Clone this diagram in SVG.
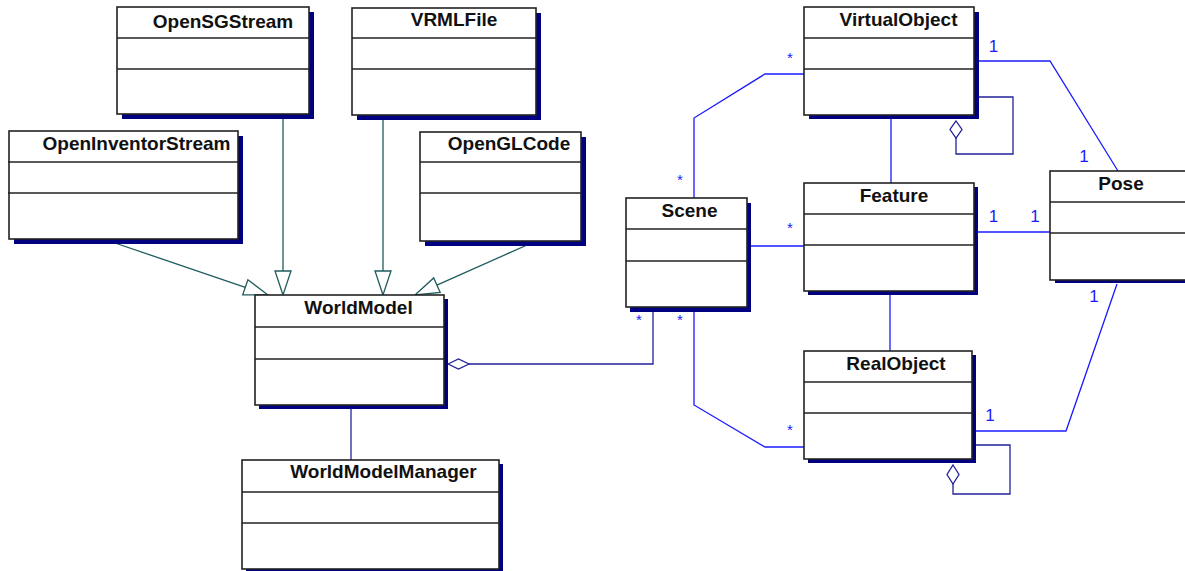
<svg xmlns="http://www.w3.org/2000/svg" width="1185" height="571" viewBox="0 0 1185 571">
  <style>
    .shadow { fill: #000080; }
    .box { fill: #ffffff; stroke: #222222; stroke-width: 1.6; }
    .div { stroke: #222222; stroke-width: 1.4; }
    .name { font-family: "Liberation Sans", Arial, sans-serif; font-weight: bold; font-size: 19px; fill: #111111; text-anchor: middle; }
    .gen { fill: none; stroke: #1f5c5c; stroke-width: 1.3; }
    .genhead { fill: #ffffff; stroke: #1f5c5c; stroke-width: 1.3; }
    .assoc { fill: none; stroke: #1a1aff; stroke-width: 1.3; }
    .aggr { fill: none; stroke: #22229a; stroke-width: 1.3; }
    .diamond { fill: #ffffff; stroke: #22229a; stroke-width: 1.3; }
    .mult { font-family: "Liberation Sans", Arial, sans-serif; font-size: 17px; fill: #1a1aff; text-anchor: middle; }
    .star { font-family: "Liberation Sans", Arial, sans-serif; font-size: 15px; fill: #1a1aff; text-anchor: middle; }
  </style>
  <rect width="1185" height="571" fill="#ffffff"/>

  <!-- connectors -->
  <g id="connectors">
    <!-- generalizations into WorldModel -->
    <line class="gen" x1="283" y1="119" x2="283" y2="271"/>
    <polygon class="genhead" points="283,295 275,271 291,271"/>
    <line class="gen" x1="383" y1="119" x2="383" y2="271"/>
    <polygon class="genhead" points="383,295 375,271 391,271"/>
    <line class="gen" x1="115" y1="243" x2="245.3" y2="287.3"/>
    <polygon class="genhead" points="268,295 242.7,294.9 247.9,279.7"/>
    <line class="gen" x1="527" y1="245" x2="436.9" y2="285.2"/>
    <polygon class="genhead" points="415,295 433.7,277.9 440.2,292.5"/>

    <!-- WorldModel to WorldModelManager -->
    <line class="aggr" x1="351" y1="409" x2="351" y2="460"/>

    <!-- WorldModel aggregates Scene -->
    <polyline class="aggr" points="469,364 653,364 653,312"/>
    <polygon class="diamond" points="448,364 458.5,359 469,364 458.5,369"/>

    <!-- Scene associations -->
    <polyline class="assoc" points="694,198 694,118 765,74 804,74"/>
    <line class="assoc" x1="751" y1="246" x2="804" y2="246"/>
    <polyline class="assoc" points="694,312 694,405 765,447 804,447"/>

    <!-- Feature links -->
    <line class="assoc" x1="891" y1="119" x2="891" y2="183"/>
    <line class="assoc" x1="890" y1="295" x2="890" y2="351"/>

    <!-- Pose associations -->
    <polyline class="assoc" points="979,61 1050,61 1118,171"/>
    <line class="assoc" x1="978" y1="232" x2="1050" y2="232"/>
    <polyline class="assoc" points="976,431 1066,431 1117,284"/>

    <!-- self aggregations -->
    <polyline class="aggr" points="979,97 1013,97 1013,154 956,154 956,138"/>
    <polygon class="diamond" points="956,121 962,129.5 956,138 950,129.5"/>
    <polyline class="aggr" points="976,445 1010,445 1010,494 953,494 953,484"/>
    <polygon class="diamond" points="953,465 959,474.5 953,484 947,474.5"/>

    <!-- multiplicities -->
    <text class="star" x="790" y="63">*</text>
    <text class="star" x="680" y="185">*</text>
    <text class="star" x="790" y="233">*</text>
    <text class="star" x="639" y="325">*</text>
    <text class="star" x="680" y="325">*</text>
    <text class="star" x="790" y="435">*</text>
    <text class="mult" x="993.5" y="52">1</text>
    <text class="mult" x="1084" y="162">1</text>
    <text class="mult" x="993.5" y="222">1</text>
    <text class="mult" x="1035" y="222">1</text>
    <text class="mult" x="1094" y="302">1</text>
    <text class="mult" x="990" y="421">1</text>
  </g>

  <!-- classes -->
  <g id="OpenSGStream">
    <rect class="shadow" x="122" y="12" width="192" height="107"/>
    <rect class="box" x="117" y="7" width="192" height="107"/>
    <line class="div" x1="117" y1="38" x2="309" y2="38"/>
    <line class="div" x1="117" y1="69" x2="309" y2="69"/>
    <text class="name" x="223" y="28">OpenSGStream</text>
  </g>

  <g id="VRMLFile">
    <rect class="shadow" x="357" y="13" width="184" height="107"/>
    <rect class="box" x="352" y="8" width="184" height="107"/>
    <line class="div" x1="352" y1="38" x2="536" y2="38"/>
    <line class="div" x1="352" y1="69" x2="536" y2="69"/>
    <text class="name" x="454" y="26">VRMLFile</text>
  </g>

  <g id="OpenInventorStream">
    <rect class="shadow" x="14" y="136" width="229" height="108"/>
    <rect class="box" x="9" y="131" width="229" height="108"/>
    <line class="div" x1="8" y1="162" x2="238" y2="162"/>
    <line class="div" x1="8" y1="193" x2="238" y2="193"/>
    <text class="name" x="136.5" y="150">OpenInventorStream</text>
  </g>

  <g id="OpenGLCode">
    <rect class="shadow" x="425" y="137" width="161" height="109"/>
    <rect class="box" x="420" y="132" width="161" height="109"/>
    <line class="div" x1="420" y1="162" x2="581" y2="162"/>
    <line class="div" x1="420" y1="193" x2="581" y2="193"/>
    <text class="name" x="509" y="150">OpenGLCode</text>
  </g>

  <g id="WorldModel">
    <rect class="shadow" x="259" y="299" width="189" height="110"/>
    <rect class="box" x="255" y="295" width="189" height="110"/>
    <line class="div" x1="255" y1="327" x2="444" y2="327"/>
    <line class="div" x1="255" y1="359" x2="444" y2="359"/>
    <text class="name" x="358.5" y="314">WorldModel</text>
  </g>

  <g id="WorldModelManager">
    <rect class="shadow" x="246" y="464" width="257" height="109"/>
    <rect class="box" x="242" y="460" width="257" height="109"/>
    <line class="div" x1="242" y1="492" x2="499" y2="492"/>
    <line class="div" x1="242" y1="523" x2="499" y2="523"/>
    <text class="name" x="383.5" y="478">WorldModelManager</text>
  </g>

  <g id="Scene">
    <rect class="shadow" x="630" y="203" width="121" height="109"/>
    <rect class="box" x="626" y="198" width="121" height="109"/>
    <line class="div" x1="626" y1="229" x2="747" y2="229"/>
    <line class="div" x1="626" y1="261" x2="747" y2="261"/>
    <text class="name" x="689.5" y="217">Scene</text>
  </g>

  <g id="VirtualObject">
    <rect class="shadow" x="809" y="12" width="170" height="107"/>
    <rect class="box" x="804" y="7" width="170" height="108"/>
    <line class="div" x1="804" y1="38" x2="974" y2="38"/>
    <line class="div" x1="804" y1="69" x2="974" y2="69"/>
    <text class="name" x="898.5" y="26">VirtualObject</text>
  </g>

  <g id="Feature">
    <rect class="shadow" x="808" y="187" width="170" height="108"/>
    <rect class="box" x="804" y="183" width="170" height="108"/>
    <line class="div" x1="804" y1="214" x2="974" y2="214"/>
    <line class="div" x1="804" y1="245" x2="974" y2="245"/>
    <text class="name" x="894" y="202">Feature</text>
  </g>

  <g id="RealObject">
    <rect class="shadow" x="808" y="355" width="168" height="108"/>
    <rect class="box" x="804" y="351" width="168" height="108"/>
    <line class="div" x1="804" y1="382" x2="972" y2="382"/>
    <line class="div" x1="804" y1="413" x2="972" y2="413"/>
    <text class="name" x="896" y="370">RealObject</text>
  </g>

  <g id="Pose">
    <rect class="shadow" x="1055" y="175" width="150" height="108"/>
    <rect class="box" x="1050" y="171" width="150" height="109"/>
    <line class="div" x1="1050" y1="202" x2="1200" y2="202"/>
    <line class="div" x1="1050" y1="233" x2="1200" y2="233"/>
    <text class="name" x="1121" y="190">Pose</text>
  </g>
</svg>
